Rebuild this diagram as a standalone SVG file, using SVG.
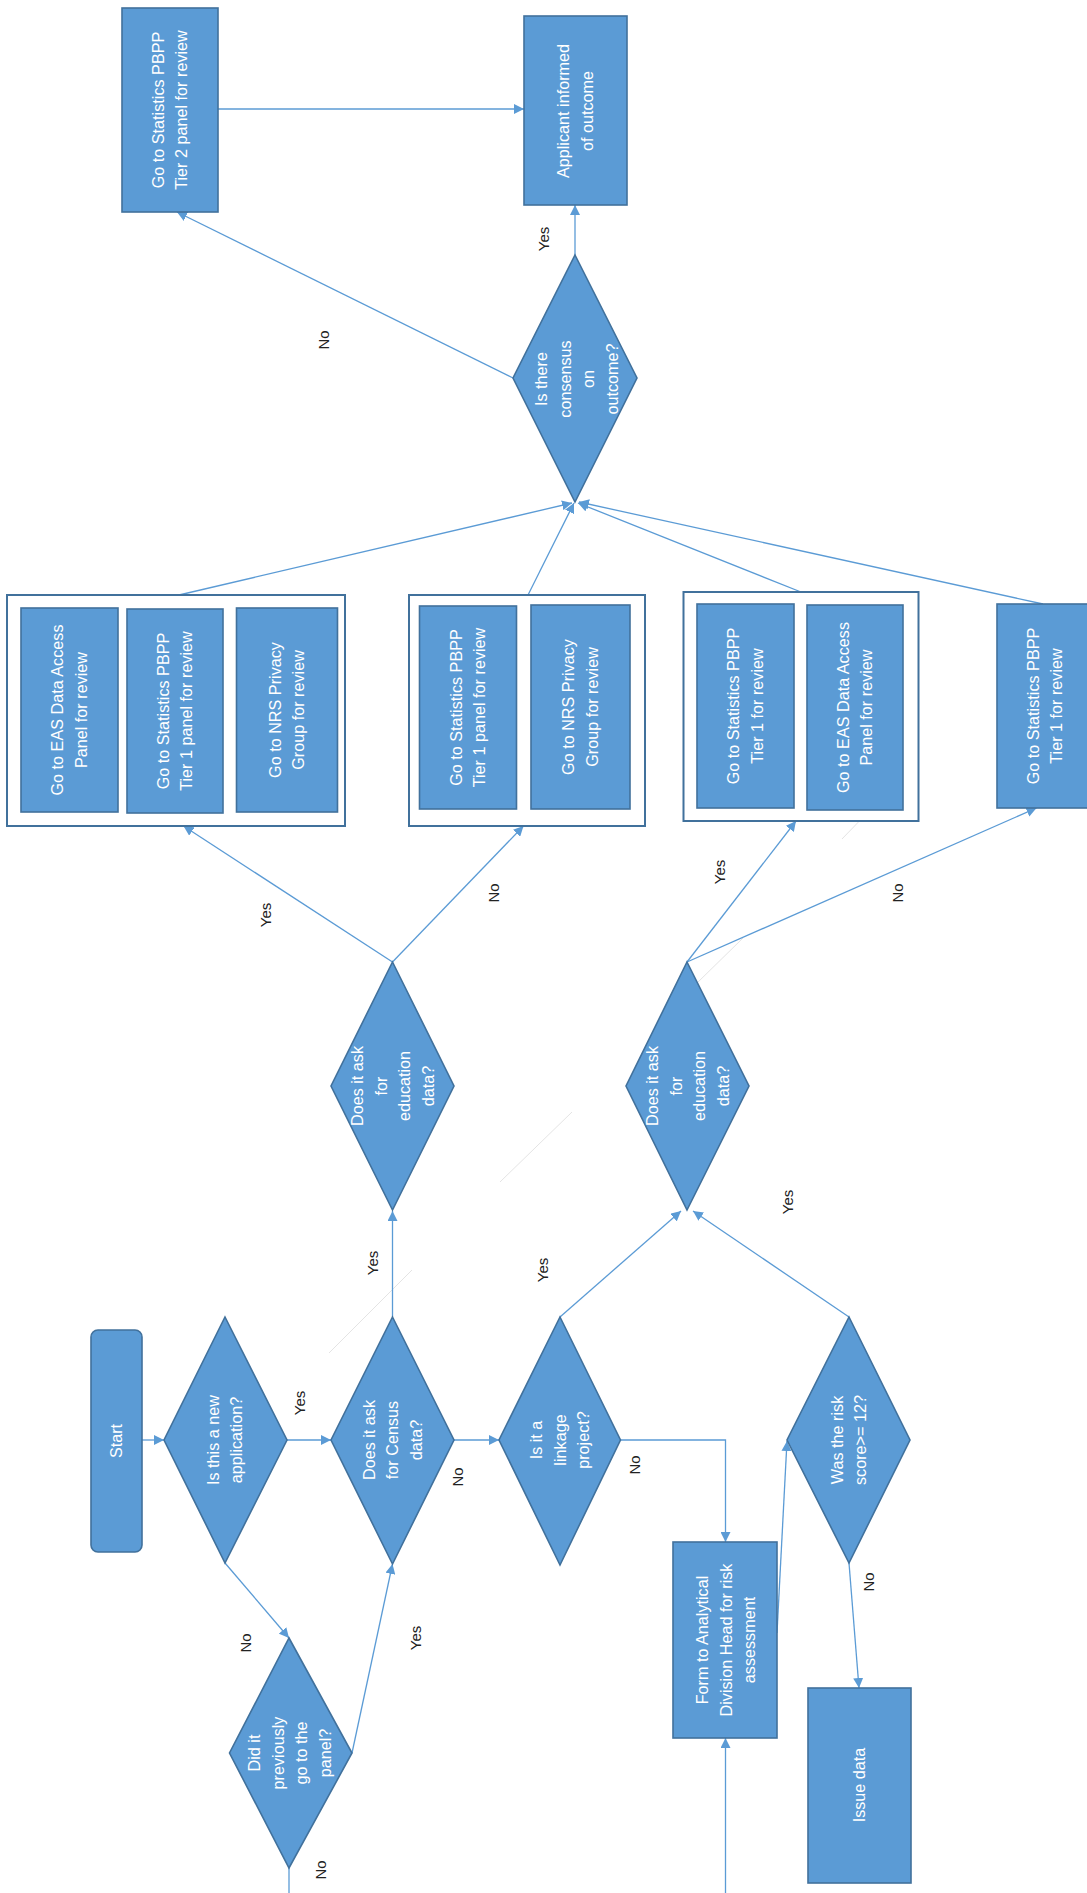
<svg xmlns="http://www.w3.org/2000/svg" width="1087" height="1893" viewBox="0 0 1087 1893">
<style>
.n{fill:#5B9BD5;stroke:#41719C;stroke-width:1.6}
.g{fill:#FFFFFF;stroke:#41719C;stroke-width:2}
.t{font-family:"Liberation Sans",Arial,sans-serif;font-size:16.2px;fill:#FFFFFF;text-anchor:middle}
.l{font-family:"Liberation Sans",Arial,sans-serif;font-size:15px;fill:#222222;text-anchor:middle}
.c{fill:none;stroke:#5B9BD5;stroke-width:1.3}
.a{marker-end:url(#ah)}
.f{fill:none;stroke:#E4E4E4;stroke-width:1}
</style>
<defs>
<marker id="ah" markerUnits="userSpaceOnUse" markerWidth="11" markerHeight="10" refX="10" refY="5" orient="auto">
<path d="M0,0 L10,5 L0,10 z" fill="#5B9BD5"/>
</marker>
</defs>
<rect width="1087" height="1893" fill="#FFFFFF"/>

<g id="artifacts">
<line class="f" x1="870" y1="810" x2="842" y2="839"/>
<line class="f" x1="743" y1="938" x2="697" y2="983"/>
<line class="f" x1="572" y1="1112" x2="500" y2="1182"/>
<line class="f" x1="412" y1="1270" x2="329" y2="1353"/>
</g>

<g id="connectors">
<path class="c a" d="M142,1440 L164,1440"/>
<path class="c a" d="M287,1440 L331,1440"/>
<path class="c a" d="M454,1440 L499,1440"/>
<path class="c a" d="M392.5,1317 L392.5,1211"/>
<path class="c a" d="M560,1317 L681,1211"/>
<path class="c a" d="M849,1317 L693,1211"/>
<path class="c a" d="M620.5,1440 L725.5,1440 L725.5,1542"/>
<path class="c a" d="M725.5,1893 L725.5,1738"/>
<path class="c a" d="M777,1633 L787,1441"/>
<path class="c a" d="M849,1563 L859,1688"/>
<path class="c a" d="M225,1563 L289,1638"/>
<path class="c a" d="M352,1753 L392.5,1564"/>
<path class="c" d="M289,1868 L289,1893"/>
<path class="c a" d="M392.5,962 L183.5,826"/>
<path class="c a" d="M392.5,962 L523.5,826"/>
<path class="c a" d="M687,962 L796,821"/>
<path class="c a" d="M687,962 L1036.5,808"/>
<path class="c a" d="M179,595 L572,503"/>
<path class="c a" d="M528,595 L574,503"/>
<path class="c a" d="M801,592 L578,503"/>
<path class="c a" d="M1043,604 L579,502"/>
<path class="c a" d="M575,255 L575,205"/>
<path class="c a" d="M513,378 L177,212"/>
<path class="c a" d="M218,109 L524,109"/>
</g>

<g id="labels">
<text class="l" transform="translate(544,239) rotate(-90)" y="5">Yes</text>
<text class="l" transform="translate(324,340) rotate(-90)" y="5">No</text>
<text class="l" transform="translate(265.5,915) rotate(-90)" y="5">Yes</text>
<text class="l" transform="translate(494,893) rotate(-90)" y="5">No</text>
<text class="l" transform="translate(719.5,872) rotate(-90)" y="5">Yes</text>
<text class="l" transform="translate(898,893) rotate(-90)" y="5">No</text>
<text class="l" transform="translate(300,1403) rotate(-90)" y="5">Yes</text>
<text class="l" transform="translate(372.5,1263) rotate(-90)" y="5">Yes</text>
<text class="l" transform="translate(458,1477) rotate(-90)" y="5">No</text>
<text class="l" transform="translate(542.5,1270) rotate(-90)" y="5">Yes</text>
<text class="l" transform="translate(788,1202) rotate(-90)" y="5">Yes</text>
<text class="l" transform="translate(634.5,1465) rotate(-90)" y="5">No</text>
<text class="l" transform="translate(246,1643) rotate(-90)" y="5">No</text>
<text class="l" transform="translate(416,1638) rotate(-90)" y="5">Yes</text>
<text class="l" transform="translate(320.5,1870) rotate(-90)" y="5">No</text>
<text class="l" transform="translate(869,1582) rotate(-90)" y="5">No</text>
</g>

<g id="start">
<rect class="n" x="91" y="1330" width="51" height="222" rx="7"/>
<text class="t" transform="translate(116.5,1441) rotate(-90)"><tspan x="0" y="5.5">Start</tspan></text>
</g>
<g id="new-application">
<polygon class="n" points="225,1317 287,1440 225,1563 164,1440"/>
<text class="t" transform="translate(225,1440) rotate(-90)"><tspan x="0" y="-6.3">Is this a new</tspan><tspan x="0" y="17.3">application?</tspan></text>
</g>
<g id="census">
<polygon class="n" points="392.5,1317 454,1440 392.5,1564 331,1440"/>
<text class="t" transform="translate(392.5,1440) rotate(-90)"><tspan x="0" y="-18">Does it ask</tspan><tspan x="0" y="5.5">for Census</tspan><tspan x="0" y="29">data?</tspan></text>
</g>
<g id="linkage">
<polygon class="n" points="560,1317 620.5,1440 560,1565 499,1440"/>
<text class="t" transform="translate(560,1440) rotate(-90)"><tspan x="0" y="-18">Is it a</tspan><tspan x="0" y="5.5">linkage</tspan><tspan x="0" y="29">project?</tspan></text>
</g>
<g id="risk-score">
<polygon class="n" points="849,1317 910,1440 849,1563 787,1440"/>
<text class="t" transform="translate(849,1440) rotate(-90)"><tspan x="0" y="-6.3">Was the risk</tspan><tspan x="0" y="17.3">score&gt;= 12?</tspan></text>
</g>
<g id="previously-panel">
<polygon class="n" points="289,1638 352,1753 289,1868 229.5,1753"/>
<text class="t" transform="translate(290,1753) rotate(-90)"><tspan x="0" y="-29.8">Did it</tspan><tspan x="0" y="-6.3">previously</tspan><tspan x="0" y="17.3">go to the</tspan><tspan x="0" y="40.8">panel?</tspan></text>
</g>
<g id="form-risk">
<rect class="n" x="673" y="1542" width="104" height="196"/>
<text class="t" transform="translate(726,1640) rotate(-90)"><tspan x="0" y="-18">Form to Analytical</tspan><tspan x="0" y="5.5">Division Head for risk</tspan><tspan x="0" y="29">assessment</tspan></text>
</g>
<g id="issue-data">
<rect class="n" x="808" y="1688" width="103" height="195"/>
<text class="t" transform="translate(859.5,1785) rotate(-90)"><tspan x="0" y="5.5">Issue data</tspan></text>
</g>
<g id="education-1">
<polygon class="n" points="392.5,962 454,1086 392.5,1210 331,1086"/>
<text class="t" transform="translate(393,1086) rotate(-90)"><tspan x="0" y="-29.8">Does it ask</tspan><tspan x="0" y="-6.3">for</tspan><tspan x="0" y="17.3">education</tspan><tspan x="0" y="40.8">data?</tspan></text>
</g>
<g id="education-2">
<polygon class="n" points="687,962 749,1086 687,1210 626,1086"/>
<text class="t" transform="translate(688,1086) rotate(-90)"><tspan x="0" y="-29.8">Does it ask</tspan><tspan x="0" y="-6.3">for</tspan><tspan x="0" y="17.3">education</tspan><tspan x="0" y="40.8">data?</tspan></text>
</g>
<g id="group-1">
<rect class="g" x="7" y="595" width="338" height="231"/>
<g id="g1-eas">
<rect class="n" x="21" y="608" width="97" height="204"/>
<text class="t" transform="translate(69.5,710) rotate(-90)"><tspan x="0" y="-6.3">Go to EAS Data Access</tspan><tspan x="0" y="17.3">Panel for review</tspan></text>
</g>
<g id="g1-tier1">
<rect class="n" x="127" y="609" width="96" height="204"/>
<text class="t" transform="translate(175,711) rotate(-90)"><tspan x="0" y="-6.3">Go to Statistics PBPP</tspan><tspan x="0" y="17.3">Tier 1 panel for review</tspan></text>
</g>
<g id="g1-nrs">
<rect class="n" x="236.5" y="608" width="101" height="204"/>
<text class="t" transform="translate(287,710) rotate(-90)"><tspan x="0" y="-6.3">Go to NRS Privacy</tspan><tspan x="0" y="17.3">Group for review</tspan></text>
</g>
</g>
<g id="group-2">
<rect class="g" x="409" y="595" width="236" height="231"/>
<g id="g2-tier1">
<rect class="n" x="419.5" y="606" width="97" height="203"/>
<text class="t" transform="translate(468,707.5) rotate(-90)"><tspan x="0" y="-6.3">Go to Statistics PBPP</tspan><tspan x="0" y="17.3">Tier 1 panel for review</tspan></text>
</g>
<g id="g2-nrs">
<rect class="n" x="531" y="605" width="99" height="204"/>
<text class="t" transform="translate(580.5,707) rotate(-90)"><tspan x="0" y="-6.3">Go to NRS Privacy</tspan><tspan x="0" y="17.3">Group for review</tspan></text>
</g>
</g>
<g id="group-3">
<rect class="g" x="683.5" y="592" width="235" height="229"/>
<g id="g3-tier1">
<rect class="n" x="697" y="604" width="97" height="204"/>
<text class="t" transform="translate(745.5,706) rotate(-90)"><tspan x="0" y="-6.3">Go to Statistics PBPP</tspan><tspan x="0" y="17.3">Tier 1 for review</tspan></text>
</g>
<g id="g3-eas">
<rect class="n" x="807" y="605" width="96" height="205"/>
<text class="t" transform="translate(855,707.5) rotate(-90)"><tspan x="0" y="-6.3">Go to EAS Data Access</tspan><tspan x="0" y="17.3">Panel for review</tspan></text>
</g>
</g>
<g id="tier1-only">
<rect class="n" x="997" y="604" width="96" height="204"/>
<text class="t" transform="translate(1045,706) rotate(-90)"><tspan x="0" y="-6.3">Go to Statistics PBPP</tspan><tspan x="0" y="17.3">Tier 1 for review</tspan></text>
</g>
<g id="consensus">
<polygon class="n" points="575,255 637,378 575,502 513,378"/>
<text class="t" transform="translate(577,379) rotate(-90)"><tspan x="0" y="-29.8">Is there</tspan><tspan x="0" y="-6.3">consensus</tspan><tspan x="0" y="17.3">on</tspan><tspan x="0" y="40.8">outcome?</tspan></text>
</g>
<g id="tier2">
<rect class="n" x="122" y="8" width="96" height="204"/>
<text class="t" transform="translate(170,110) rotate(-90)"><tspan x="0" y="-6.3">Go to Statistics PBPP</tspan><tspan x="0" y="17.3">Tier 2 panel for review</tspan></text>
</g>
<g id="applicant-informed">
<rect class="n" x="524" y="16" width="103" height="189"/>
<text class="t" transform="translate(575.5,111) rotate(-90)"><tspan x="0" y="-6.3">Applicant informed</tspan><tspan x="0" y="17.3">of outcome</tspan></text>
</g>
</svg>
